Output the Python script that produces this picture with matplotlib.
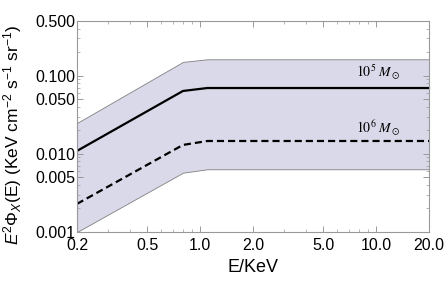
import matplotlib
matplotlib.use("Agg")
import matplotlib.pyplot as plt
from matplotlib.ticker import FixedLocator, FixedFormatter, LogLocator, NullFormatter

# energies (KeV) where the curves bend
energia = [0.2, 0.8, 1.1, 20.0]
fluxo_1e5 = [0.0109, 0.0637, 0.0695, 0.0695]
fluxo_1e6 = [0.00229, 0.0130, 0.0146, 0.0146]
banda_sup = [0.0248, 0.150, 0.162, 0.162]
banda_inf = [0.0010, 0.00574, 0.00635, 0.00635]

ticks_x = [0.2, 0.5, 1.0, 2.0, 5.0, 10.0, 20.0]
rotulos_x = ["0.2", "0.5", "1.0", "2.0", "5.0", "10.0", "20.0"]
ticks_y = [0.001, 0.005, 0.010, 0.050, 0.100, 0.500]
rotulos_y = ["0.001", "0.005", "0.010", "0.050", "0.100", "0.500"]

plt.rcParams["font.family"] = ["Liberation Sans", "DejaVu Sans"]
plt.rcParams["mathtext.fontset"] = "custom"
plt.rcParams["mathtext.rm"] = "Liberation Sans"
plt.rcParams["mathtext.it"] = "Liberation Sans:italic"

fig = plt.figure(figsize=(4.46, 2.84), dpi=100)
ax = fig.add_axes([0.1726, 0.183, 0.7894, 0.743])

ax.fill_between(energia, banda_inf, banda_sup, facecolor="#d9d9ea",
                edgecolor="#808080", linewidth=0.6)
ax.plot(energia, fluxo_1e5, color="black", linewidth=1.6)
ax.plot(energia, fluxo_1e6, color="black", linewidth=1.6, dashes=(3.2, 1.8))

ax.set_xscale("log")
ax.set_yscale("log")
ax.set_xlim(0.2, 20)
ax.set_ylim(0.001, 0.5)

ax.xaxis.set_major_locator(FixedLocator(ticks_x))
ax.xaxis.set_major_formatter(FixedFormatter(rotulos_x))
ax.xaxis.set_minor_locator(LogLocator(base=10, subs=range(1, 10)))
ax.xaxis.set_minor_formatter(NullFormatter())
ax.yaxis.set_major_locator(FixedLocator(ticks_y))
ax.yaxis.set_major_formatter(FixedFormatter(rotulos_y))
ax.yaxis.set_minor_locator(LogLocator(base=10, subs=range(1, 10)))
ax.yaxis.set_minor_formatter(NullFormatter())

for lado in ax.spines.values():
    lado.set_color("#999999")
    lado.set_linewidth(0.8)
ax.tick_params(which="both", direction="in", top=True, right=True,
               color="#999999", labelsize=11.5, pad=1.5)
ax.tick_params(axis="x", which="major", pad=4)
ax.tick_params(which="major", length=4, width=0.7)
ax.tick_params(which="minor", length=2, width=0.5)

ax.text(10.3, 0.111, r"$10^5\ M_\odot$", fontsize=10, ha="center",
        va="center", math_fontfamily="stix")
ax.text(10.3, 0.0214, r"$10^6\ M_\odot$", fontsize=10, ha="center",
        va="center", math_fontfamily="stix")

ax.set_xlabel("E/KeV", fontsize=13)
ax.set_ylabel(r"$E^2\Phi_X\mathrm{(E)\ (KeV\ cm^{-2}\ s^{-1}\ sr^{-1})}$",
              fontsize=12.5)
ax.xaxis.set_label_coords(0.5, -0.13)
ax.yaxis.set_label_coords(-0.15, 0.46)

fig.savefig("out.png", dpi=100)
